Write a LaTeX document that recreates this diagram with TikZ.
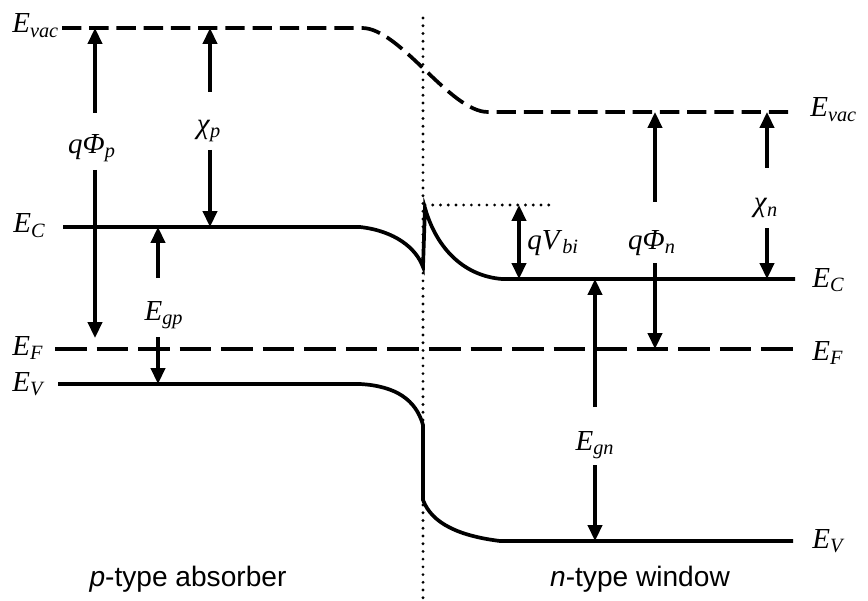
\documentclass[tikz,border=0pt]{standalone}
\usepackage{fontspec}
\setmainfont{Liberation Serif}
\newfontfamily\regionfont{Liberation Sans}
\usetikzlibrary{arrows.meta,positioning}
\newcommand{\bandsym}[2]{\textit{#1}\textsubscript{\textit{#2}}}

\begin{document}
\begin{tikzpicture}[
  x=0.02cm, y=-0.02cm,
  level/.style={line width=2.1pt},
  vaclevel/.style={line width=2.1pt, dash pattern=on 11pt off 4.5pt},
  fermi/.style={line width=2.1pt, dash pattern=on 18pt off 5.65pt},
  junction/.style={line width=1.8pt, line cap=round, dash pattern=on 0pt off 4.4pt},
  arr/.style={-{Triangle[width=8pt,length=9pt]}, line width=2pt},
  dblarr/.style={{Triangle[width=8pt,length=9pt]}-{Triangle[width=8pt,length=9pt]}, line width=2pt},
  sym/.style={inner sep=0pt, font=\fontsize{16.5}{18}\selectfont},
  region/.style={inner sep=0pt, font=\regionfont\fontsize{16}{18}\selectfont}
]

\useasboundingbox (0,0) rectangle (868,601);

% level end points
\coordinate (vacL) at (62,28);
\coordinate (vacR) at (793,112);
\coordinate (ecL)  at (63,227);
\coordinate (ecR)  at (795,279);
\coordinate (efL)  at (55,349);
\coordinate (efR)  at (793,349);
\coordinate (evL)  at (58,384);
\coordinate (evR)  at (793,541);
\coordinate (jtop) at (423,18);
\coordinate (jbot) at (423,601);
\coordinate (vbiL) at (425,205);
\coordinate (vbiR) at (550,205);

% junction
\draw[junction] (jtop) -- (jbot);

% bands
\draw[vaclevel] (vacL) -- (362,28) .. controls (400,28) and (450,112) .. (488,112) -- (vacR);
\draw[level] (ecL) -- (360,227) .. controls (395,231) and (416,248) .. (423,267)
  -- (425,208) .. controls (437,250) and (465,276) .. (502,279) -- (ecR);
\draw[fermi] (efL) -- (efR);
\draw[level] (evL) -- (360,384) .. controls (396,386) and (416,400) .. (423,425)
  -- (423,500) .. controls (432,524) and (460,536) .. (500,541) -- (evR);
\draw[junction] (vbiL) -- (vbiR);

% level labels
\node[sym, anchor=base west] (lvacp) at (12,33)  {\bandsym{E}{vac}};
\node[sym, anchor=base west] (lecp)  at (13,233) {\bandsym{E}{C}};
\node[sym, anchor=base west] (lefp)  at (12,355) {\bandsym{E}{F}};
\node[sym, anchor=base west] (levp)  at (12,391) {\bandsym{E}{V}};
\node[sym, anchor=base west] (lvacn) at (810,117) {\bandsym{E}{vac}};
\node[sym, anchor=base west] (lecn)  at (812,287) {\bandsym{E}{C}};
\node[sym, anchor=base west] (lefn)  at (812,360) {\bandsym{E}{F}};
\node[sym, anchor=base west] (levn)  at (812,548) {\bandsym{E}{V}};

% quantity labels
\node[sym] (lphip) at (92,148)  {\textit{q}\textit{Φ}\textsubscript{\textit{p}}};
\node[sym] (lchip) at (209,131) {\textit{χ}\textsubscript{\textit{p}}};
\node[sym] (legp)  at (164,315) {\bandsym{E}{gp}};
\node[sym] (lphin) at (652,243) {\textit{q}\textit{Φ}\textsubscript{\textit{n}}};
\node[sym] (lchin) at (766,208) {\textit{χ}\textsubscript{\textit{n}}};
\node[sym] (legn)  at (595,445) {\bandsym{E}{gn}};
\node[sym, anchor=base west] (lvbi) at (527,249) {\textit{qV}\textsubscript{\textit{bi}}};

% arrow ends
\coordinate (phipA) at (95,113);  \coordinate (phipB) at (95,170);
\coordinate (chipA) at (210,92);  \coordinate (chipB) at (210,150);
\coordinate (egpA)  at (158,278); \coordinate (egpB)  at (158,337);
\coordinate (phinA) at (655,202); \coordinate (phinB) at (655,263);
\coordinate (chinA) at (767,168); \coordinate (chinB) at (767,228);
\coordinate (egnA)  at (595,407); \coordinate (egnB)  at (595,465);

% arrows
\draw[arr] (phipA) -- (phipA |- vacL);
\draw[arr] (phipB) -- (95,338);
\draw[arr] (chipA) -- (chipA |- vacL);
\draw[arr] (chipB) -- (chipB |- ecL);
\draw[arr] (egpA)  -- (egpA |- ecL);
\draw[arr] (egpB)  -- (egpB |- evL);
\draw[arr] (phinA) -- (phinA |- vacR);
\draw[arr] (phinB) -- (phinB |- efR);
\draw[arr] (chinA) -- (chinA |- vacR);
\draw[arr] (chinB) -- (chinB |- ecR);
\draw[arr] (egnA)  -- (egnA |- ecR);
\draw[arr] (egnB)  -- (egnB |- evR);
\draw[dblarr] (vbiL -| 519,0) -- (519,279);

% regions
\node[region] (pside) at (188,579) {\textit{p}-type absorber};
\node[region] (nside) at (640,579) {\textit{n}-type window};

\end{tikzpicture}
\end{document}
